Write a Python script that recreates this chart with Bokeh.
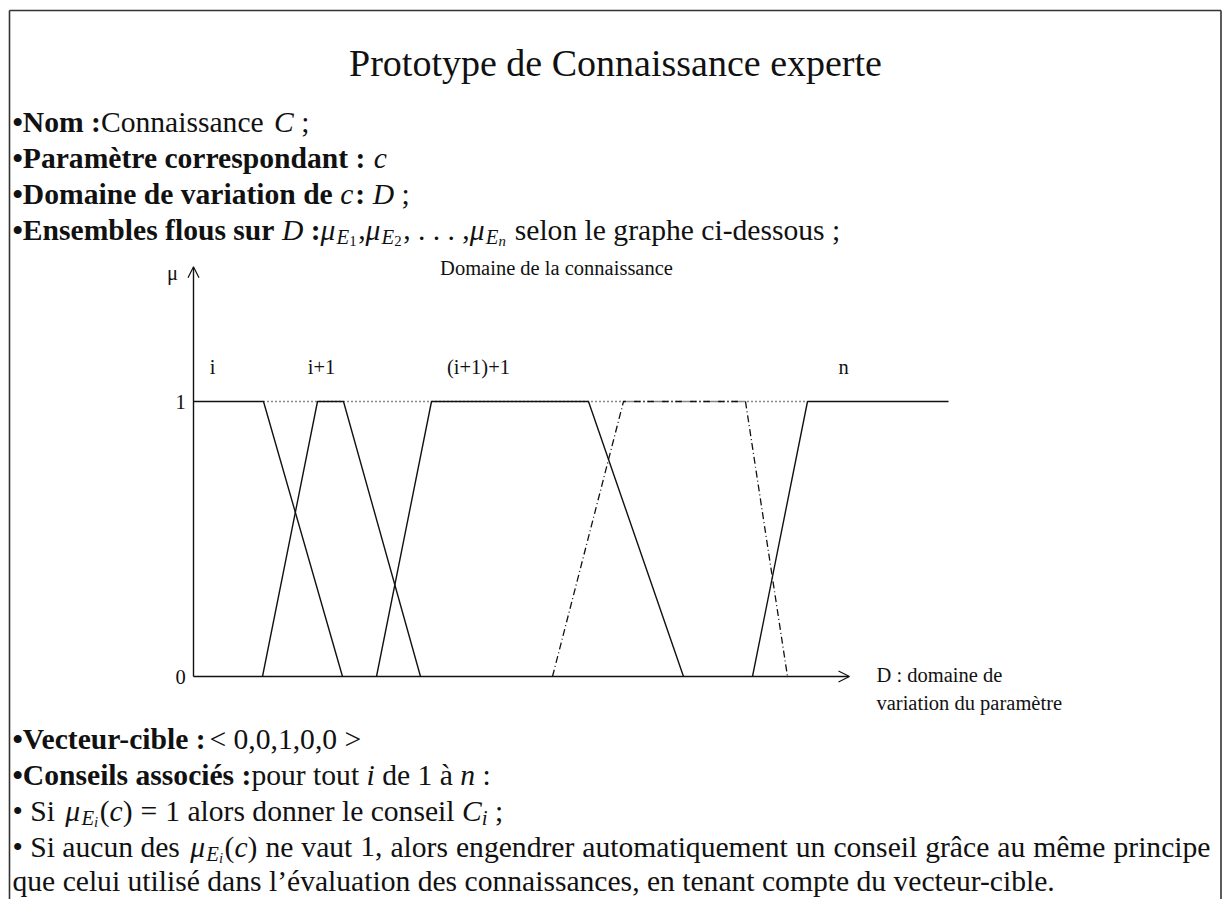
from bokeh.plotting import figure
from bokeh.models import Range1d, Label, Arrow, OpenHead
from bokeh.embed import file_html
from bokeh.resources import INLINE

# ---------------- data (domain D units, membership mu) ----------------
E_i_x = [0.0, 7.0, 14.9]
E_i_mu = [1, 1, 0]
E_i1_x = [6.9, 12.4, 15.0, 22.7]
E_i1_mu = [0, 1, 1, 0]
E_i2_x = [18.3, 23.8, 39.5, 49.0]
E_i2_mu = [0, 1, 1, 0]
E_j_x = [35.9, 43.0, 55.2, 59.4]
E_j_mu = [0, 1, 1, 0]
E_n_x = [55.9, 61.4, 75.5]
E_n_mu = [0, 1, 1]
dotted_x = [7.0, 61.4]
dotted_mu = [1, 1]
set_labels = ["i", "i+1", "(i+1)+1", "n"]
set_label_x = [1.9, 12.8, 28.5, 65.0]
tick_labels = ["0", "1"]
tick_values = [0, 1]
x_axis_end = 65.6
y_axis_end = 1.49

W, H = 1222, 899
X0, Y0, SX, SY = 193, 676, 10.0, 275.0   # pixel of origin, px per unit


def px(x):
    return (x - X0) / SX


def py(y):
    return (Y0 - y) / SY


p = figure(width=W, height=H, output_backend="svg", toolbar_location=None,
           x_range=Range1d(px(0), px(W)), y_range=Range1d(py(H), py(0)),
           min_border=0, outline_line_color=None)
p.axis.visible = False
p.grid.visible = False
p.background_fill_color = "white"
p.border_fill_color = "white"

SERIF = "Liberation Serif"
INK = "#111111"
REG = 29.6
BOLD = 29.6
CHART = 20.5

# ---- Times-like metrics (1/1000 em) for sequential layout ----
_R = dict(zip(" !()+,-.:;<=>", [250, 333, 333, 333, 564, 250, 333, 250, 278, 278, 564, 564, 564]))
_R.update({d: 500 for d in "0123456789"})
_R.update(dict(zip("ABCDEFGHIJKLMNOPQRSTUVWXYZ",
                   [722, 667, 667, 722, 611, 556, 722, 722, 333, 389, 722, 611, 889, 722, 722, 556,
                    722, 667, 556, 611, 722, 722, 944, 722, 722, 611])))
_R.update(dict(zip("abcdefghijklmnopqrstuvwxyz",
                   [444, 500, 444, 500, 444, 333, 500, 500, 278, 278, 500, 278, 778, 500, 500, 500,
                    500, 333, 389, 278, 500, 500, 722, 500, 500, 444])))
_R.update({"à": 444, "â": 444, "é": 444, "è": 444, "ê": 444, "’": 333, "•": 350, "μ": 576})
_B = dict(_R)
_B.update({":": 333, ";": 333})
_B.update(dict(zip("ABCDEFGHIJKLMNOPQRSTUVWXYZ",
                   [722, 667, 722, 722, 667, 611, 778, 778, 389, 500, 778, 667, 944, 722, 778, 611,
                    778, 722, 556, 667, 722, 722, 1000, 722, 722, 667])))
_B.update(dict(zip("abcdefghijklmnopqrstuvwxyz",
                   [500, 556, 444, 556, 444, 333, 500, 556, 278, 333, 556, 278, 833, 556, 500, 556,
                    556, 444, 389, 333, 556, 500, 722, 500, 500, 444])))
_B.update({"é": 444, "è": 444})
_I = dict(_R)
_I.update({"C": 667, "D": 722, "E": 611, "c": 444, "i": 278, "n": 500, "μ": 576})
METRIC = {"normal": _R, "bold": _B, "italic": _I}


def tw(text, style, size):
    m = METRIC[style]
    return sum(m.get(ch, 500) for ch in text) * size / 1000.0


def lab(text, x, y, size=REG, style="normal", align="left"):
    p.add_layout(Label(x=px(x), y=py(y), text=text, text_font=SERIF,
                       text_font_size=f"{size:.1f}px", text_font_style=style,
                       text_align=align, text_baseline="middle", text_color=INK))


def run_line(runs, y, x=12):
    """runs: (text, kind); kind r/b/i, s* = subscript, ss* = second-level subscript, sp = gap px"""
    for text, kind in runs:
        if kind == "sp":
            x += text
            continue
        style = {"r": "normal", "b": "bold", "i": "italic"}[kind[-1]]
        if kind.startswith("ss"):
            size, dy = REG * 0.50, 11
        elif kind.startswith("s"):
            size, dy = REG * 0.70, 7
        else:
            size, dy = (BOLD if kind == "b" else REG), 0
        lead = len(text) - len(text.lstrip(" "))
        x += tw(" " * lead, style, size)
        body = text.strip(" ")
        if body:
            lab(body, x, y + dy, size=size, style=style)
        x += tw(text[lead:], style, size)
    return x


def mu_sub(sub, subkind):
    return [("μ", "i"), (-1, "sp"), ("E", "si"), (sub, subkind), (1.5, "sp")]


# frame (top, left, right)
p.line([px(9), px(9)], [py(H), py(10)], line_color="#333333", line_width=1.6)
p.line([px(9), px(W - 1.5)], [py(10), py(10)], line_color="#333333", line_width=1.6)
p.line([px(W - 1.5), px(W - 1.5)], [py(10), py(H)], line_color="#333333", line_width=1.6)

# title
lab("Prototype de Connaissance experte", 615, 62, size=38, align="center")

# upper bullet lines
run_line([("•Nom :", "b"), ("Connaissance ", "r"), (3, "sp"), ("C", "i"), (" ;", "r")], 121)
run_line([("•Paramètre correspondant : ", "b"), ("c", "i")], 157)
run_line([("•Domaine de variation de ", "b"), ("c", "i"), (2, "sp"), (":", "b"), (" ", "r"),
          ("D", "i"), (" ;", "r")], 193)
run_line([("•Ensembles flous sur ", "b"), ("D", "i"), (" :", "b")]
         + mu_sub("1", "ssr") + [(",", "r")]
         + mu_sub("2", "ssr") + [(", ", "r"), (". . .", "r"), (" ,", "r")]
         + mu_sub("n", "ssi") + [(" selon le graphe ci-dessous ;", "r")], 229)

# chart texts
lab("Domaine de la connaissance", 556, 267, size=CHART, align="center")
lab("μ", 172, 272, size=CHART, align="center")
for t, v in zip(tick_labels, tick_values):
    p.add_layout(Label(x=px(180), y=v, text=t, text_font=SERIF, text_font_size=f"{CHART}px",
                       text_align="center", text_baseline="middle", text_color=INK))
for t, xv in zip(set_labels, set_label_x):
    p.add_layout(Label(x=xv, y=py(366), text=t, text_font=SERIF, text_font_size=f"{CHART}px",
                       text_align="center", text_baseline="middle", text_color=INK))
lab("D : domaine de", 876, 674, size=CHART)
lab("variation du paramètre", 876, 702, size=CHART)

# membership functions
p.line(dotted_x, dotted_mu, line_color=INK, line_width=1.5, line_dash="1 3")
for xs, ms in [(E_i_x, E_i_mu), (E_i1_x, E_i1_mu), (E_i2_x, E_i2_mu), (E_n_x, E_n_mu)]:
    p.line(xs, ms, line_color=INK, line_width=1.4)
p.line(E_j_x, E_j_mu, line_color=INK, line_width=1.3, line_dash="7 3 1 3")

p.add_layout(Arrow(x_start=0, y_start=0, x_end=x_axis_end, y_end=0,
                   line_color=INK, line_width=1.4,
                   end=OpenHead(size=11, line_color=INK, line_width=1.2)))
p.add_layout(Arrow(x_start=0, y_start=0, x_end=0, y_end=y_axis_end,
                   line_color=INK, line_width=1.4,
                   end=OpenHead(size=11, line_color=INK, line_width=1.2)))

# lower bullet lines
run_line([("•Vecteur-cible :", "b"), ("< 0,0,1,0,0 >", "r")], 738)
run_line([("•Conseils associés :", "b"), ("pour tout ", "r"), ("i", "i"), (" de 1 à ", "r"),
          ("n", "i"), (" :", "r")], 774)
run_line([("• Si ", "r"), (3, "sp")] + mu_sub("i", "ssi")
         + [("(", "r"), ("c", "i"), (")", "r"), (8, "sp"), ("=", "r"), (8, "sp"),
            ("1 alors donner le conseil ", "r"), ("C", "i"), ("i", "si"), (" ;", "r")], 810)

x8 = run_line([("• Si aucun des ", "r"), (3, "sp")] + mu_sub("i", "ssi")
              + [("(", "r"), ("c", "i"), (")", "r")], 846)
words8 = ["ne", "vaut", "1,", "alors", "engendrer", "automatiquement", "un", "conseil",
          "grâce", "au", "même", "principe"]
right_edge = 1210
natural = sum(tw(w, "normal", REG) for w in words8)
gap = (right_edge - x8 - natural) / len(words8)
xw = x8
for w in words8:
    xw += gap
    lab(w, xw, 846)
    xw += tw(w, "normal", REG)

run_line([("que celui utilisé dans l’évaluation des connaissances, en tenant compte du vecteur-cible.",
           "r")], 880)

open("out.html", "w").write(file_html(p, INLINE))
